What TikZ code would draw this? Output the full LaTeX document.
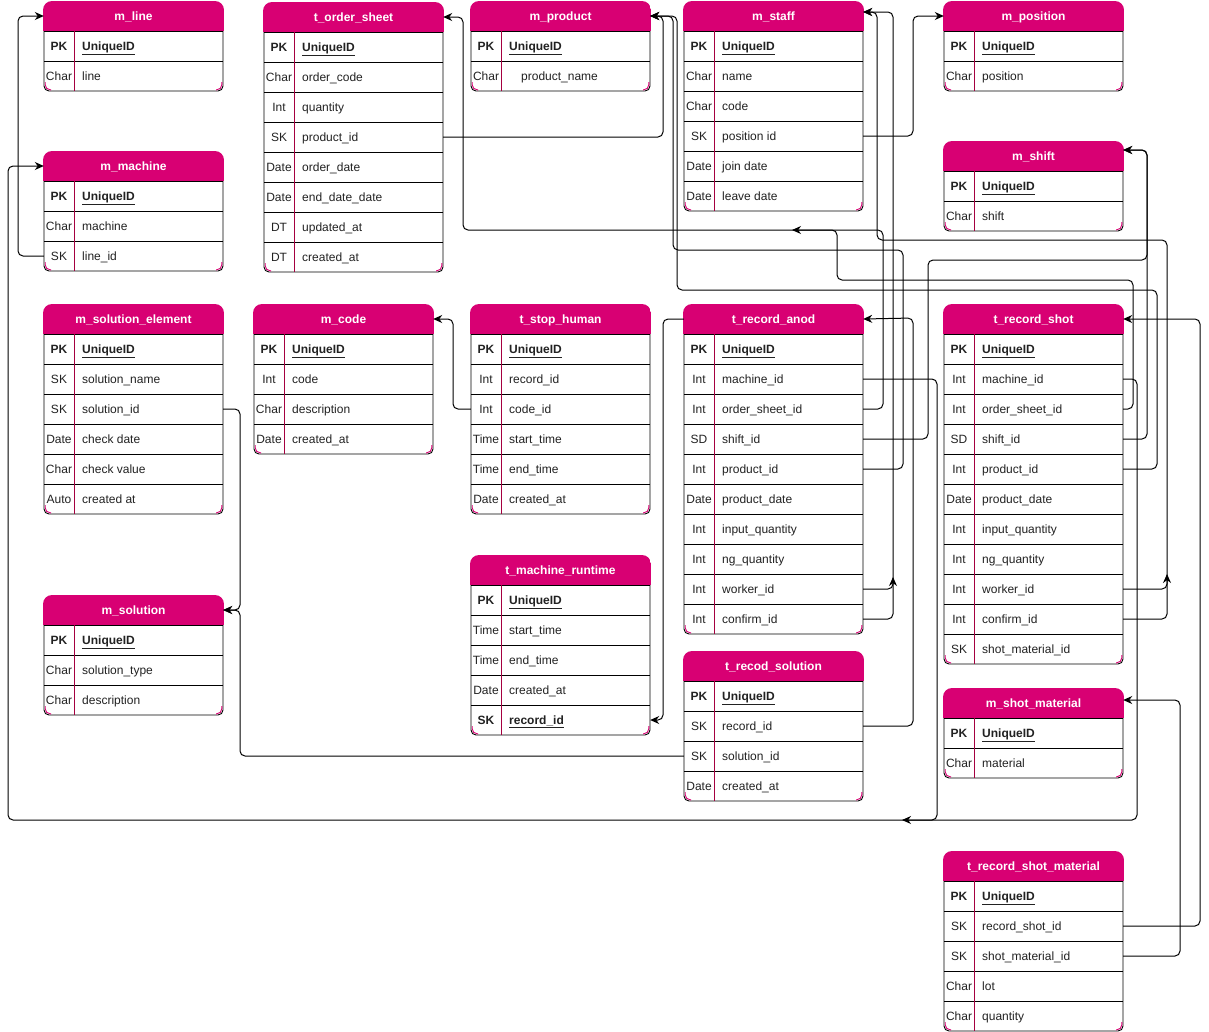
\documentclass[tikz,border=0pt]{standalone}
\usepackage{fontspec}
\setmainfont{Liberation Sans}
\usetikzlibrary{arrows.meta}
\definecolor{hdr}{HTML}{D80073}
\definecolor{ksep}{HTML}{A50040}
\definecolor{txt}{HTML}{222222}
\tikzset{
 tabline/.style={draw=black, line width=0.9pt},
 keysep/.style={draw=ksep, line width=0.9pt},
 rowcell/.style={minimum width=179pt, minimum height=30pt, inner sep=0pt, draw=none},
 hdrtext/.style={inner sep=0pt, text=white, font=\bfseries\fontsize{12}{14}\selectfont},
 keytext/.style={inner sep=0pt, text=txt, font=\fontsize{12}{14}\selectfont},
 fieldtext/.style={inner sep=0pt, text=txt, font=\fontsize{12}{14}\selectfont},
 conn/.style={draw=black, line width=1pt, rounded corners=5pt, -{Stealth[length=9pt,width=8pt]}},
}
\newcommand\ertab[6]{%
 \pgfmathsetmacro\tbot{#3+30+30*#4}%
 \draw[tabline, fill=white, rounded corners=5pt] (#2,#3+20) rectangle (#2+179,\tbot);
 \begin{scope}
  \clip (#2,\tbot-9) rectangle (#2+7,\tbot);
  \draw[hdr, line width=0.9pt, rounded corners=5pt] (#2+1.2,\tbot-25) rectangle (#2+177.8,\tbot-1.2);
 \end{scope}
 \begin{scope}
  \clip (#2+172,\tbot-9) rectangle (#2+179,\tbot);
  \draw[hdr, line width=0.9pt, rounded corners=5pt] (#2+1.2,\tbot-25) rectangle (#2+177.8,\tbot-1.2);
 \end{scope}
 \begin{scope}
  \clip[rounded corners=9pt] (#2-1,#3) rectangle (#2+180,#3+40);
  \fill[hdr] (#2-1,#3) rectangle (#2+180,#3+30);
 \end{scope}
 \node[rowcell] (#1-0) at (#2+89.5,#3+15) {};
 \node[hdrtext, anchor=base] (#1-t) at (#2+89.5,#3+19.5) {#5};
 \foreach \k/\f/\s [count=\i] in {#6} {
   \draw[tabline] (#2,#3+30*\i) -- (#2+179,#3+30*\i);
   \node[rowcell] (#1-\i) at (#2+89.5,#3+30*\i+15) {};
   \node[keytext, anchor=base] (#1-\i-k) at (#2+15,#3+30*\i+19.5) {\if p\s\textbf{\k}\else\k\fi};
   \node[fieldtext, anchor=base west] (#1-\i-f) at (#2+38,#3+30*\i+19.5) {\if p\s\textbf{\underline{\f}}\else\f\fi};
 }
 \draw[keysep] (#2+30,#3+30) -- (#2+30,\tbot);
}
\begin{document}
\begin{tikzpicture}[x=1pt,y=-1pt]
\useasboundingbox[fill=white] (0,0) rectangle (1209,1031);

\ertab{mline}{44}{1}{2}{m\_line}{PK/UniqueID/p, Char/line/n}
\ertab{mmachine}{44}{151}{3}{m\_machine}{PK/UniqueID/p, Char/machine/n, SK/line\_id/n}
\ertab{orders}{264}{2}{8}{t\_order\_sheet}{PK/UniqueID/p, Char/order\_code/n, Int/quantity/n, SK/product\_id/n, Date/order\_date/n, Date/end\_date\_date/n, DT/updated\_at/n, DT/created\_at/n}
\ertab{mproduct}{471}{1}{2}{m\_product}{PK/UniqueID/p, Char/\hspace{12pt}product\_name/n}
\ertab{mstaff}{684}{1}{6}{m\_staff}{PK/UniqueID/p, Char/name/n, Char/code/n, SK/position id/n, Date/join date/n, Date/leave date/n}
\ertab{mposition}{944}{1}{2}{m\_position}{PK/UniqueID/p, Char/position/n}
\ertab{mshift}{944}{141}{2}{m\_shift}{PK/UniqueID/p, Char/shift/n}
\ertab{msolel}{44}{304}{6}{m\_solution\_element}{PK/UniqueID/p, SK/solution\_name/n, SK/solution\_id/n, Date/check date/n, Char/check value/n, Auto/created at/n}
\ertab{mcode}{254}{304}{4}{m\_code}{PK/UniqueID/p, Int/code/n, Char/description/n, Date/created\_at/n}
\ertab{stop}{471}{304}{6}{t\_stop\_human}{PK/UniqueID/p, Int/record\_id/n, Int/code\_id/n, Time/start\_time/n, Time/end\_time/n, Date/created\_at/n}
\ertab{anod}{684}{304}{10}{t\_record\_anod}{PK/UniqueID/p, Int/machine\_id/n, Int/order\_sheet\_id/n, SD/shift\_id/n, Int/product\_id/n, Date/product\_date/n, Int/input\_quantity/n, Int/ng\_quantity/n, Int/worker\_id/n, Int/confirm\_id/n}
\ertab{shot}{944}{304}{11}{t\_record\_shot}{PK/UniqueID/p, Int/machine\_id/n, Int/order\_sheet\_id/n, SD/shift\_id/n, Int/product\_id/n, Date/product\_date/n, Int/input\_quantity/n, Int/ng\_quantity/n, Int/worker\_id/n, Int/confirm\_id/n, SK/shot\_material\_id/n}
\ertab{msol}{44}{595}{3}{m\_solution}{PK/UniqueID/p, Char/solution\_type/n, Char/description/n}
\ertab{runtime}{471}{555}{5}{t\_machine\_runtime}{PK/UniqueID/p, Time/start\_time/n, Time/end\_time/n, Date/created\_at/n, SK/record\_id/p}
\ertab{recsol}{684}{651}{4}{t\_recod\_solution}{PK/UniqueID/p, SK/record\_id/n, SK/solution\_id/n, Date/created\_at/n}
\ertab{shotmat}{944}{688}{2}{m\_shot\_material}{PK/UniqueID/p, Char/material/n}
\ertab{rsm}{944}{851}{5}{t\_record\_shot\_material}{PK/UniqueID/p, SK/record\_shot\_id/n, SK/shot\_material\_id/n, Char/lot/n, Char/quantity/n}

% free ends
\coordinate (d1) at (902,820);
\coordinate (d2) at (792,230);
\coordinate (d3) at (893,577);
\coordinate (d4) at (1167,574);

% connectors
\draw[conn] (mmachine-3.west) -- (18,256) |- (mline-0.west);
\draw[conn] (anod-2.east) -| (937,820) -- (8,820) |- (mmachine-0.west);
\draw[conn] (shot-2.east) -| (1137,820) -- (d1);
\draw[conn] (anod-3.east) -| (883,230) -- (d2);
\draw[conn] (shot-3.east) -| (1133,280) -| (837,230) -| (463,17) -- (orders-0.east);
\draw[conn] (orders-4.east) -| (663,16) -- (mproduct-0.east);
\draw[conn] (anod-5.east) -| (903,250) -| (673,16) -- (mproduct-0.east);
\draw[conn] (shot-5.east) -| (1157,290) -| (677,16) -- (mproduct-0.east);
\draw[conn] (mstaff-4.east) -| (913,16) -- (mposition-0.west);
\draw[conn] (anod-4.east) -| (928,260) -| (1147,150) -- ([yshift=6pt]mshift-0.east);
\draw[conn] (shot-4.east) -| (1147,150) -- ([yshift=6pt]mshift-0.east);
\draw[conn] (anod-9.east) -| (d3);
\draw[conn] (anod-10.east) -| (893,12) -- ([yshift=4pt]mstaff-0.east);
\draw[conn] (shot-9.east) -| (d4);
\draw[conn] (shot-10.east) -| (1167,240) -| (877,12) -- ([yshift=4pt]mstaff-0.east);
\draw[conn] (recsol-2.east) -| (913,318) -- (anod-0.east);
\draw[conn] (anod-0.west) -| (663,720) -- (runtime-5.east);
\draw[conn] (stop-3.west) -| (453,319) -- (mcode-0.east);
\draw[conn] (msolel-3.east) -| (240,610) -- (msol-0.east);
\draw[conn] (recsol-3.west) -| (240,610) -- (msol-0.east);
\draw[conn] (rsm-2.east) -| (1200,319) -- (shot-0.east);
\draw[conn] (rsm-3.east) -| (1180,700) -- ([yshift=3pt]shotmat-0.east);
\end{tikzpicture}
\end{document}
